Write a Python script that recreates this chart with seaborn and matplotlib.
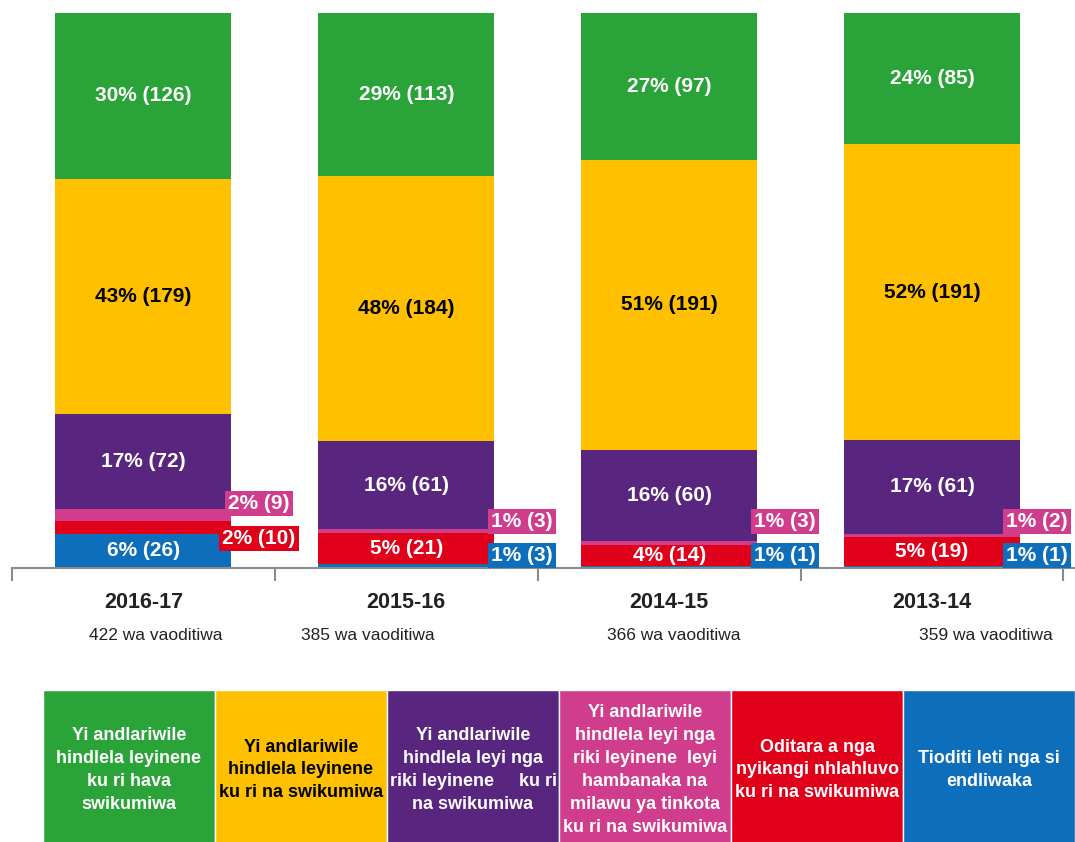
import numpy as np
import pandas as pd
import matplotlib.pyplot as plt
from matplotlib.patches import Rectangle
import seaborn as sns

sns.set_theme(style='white')
plt.rcParams['font.family'] = ['Liberation Sans Narrow', 'Liberation Sans', 'DejaVu Sans']

years = ['2016-17', '2015-16', '2014-15', '2013-14']
totals = [422, 385, 366, 359]
total_labels = ['422 wa vaoditiwa', '385 wa vaoditiwa', '366 wa vaoditiwa', '359 wa vaoditiwa']

# counts per category, listed bottom of the bar to top
blue_n = [26, 3, 1, 1]
red_n = [10, 21, 14, 19]
pink_n = [9, 3, 3, 2]
purple_n = [72, 61, 60, 61]
yellow_n = [179, 184, 191, 191]
green_n = [126, 113, 97, 85]

# percentages as printed on the chart
blue_pct = [6, 1, 1, 1]
red_pct = [2, 5, 4, 5]
pink_pct = [2, 1, 1, 1]
purple_pct = [17, 16, 16, 17]
yellow_pct = [43, 48, 51, 52]
green_pct = [30, 29, 27, 24]

legend_labels = [
    'Yi andlariwile\nhindlela leyinene\nku ri hava\nswikumiwa',
    'Yi andlariwile\nhindlela leyinene\nku ri na swikumiwa',
    'Yi andlariwile\nhindlela leyi nga\nriki leyinene     ku ri\nna swikumiwa',
    'Yi andlariwile\nhindlela leyi nga\nriki leyinene  leyi\nhambanaka na\nmilawu ya tinkota\nku ri na swikumiwa',
    'Oditara a nga\nnyikangi nhlahluvo\nku ri na swikumiwa',
    'Tioditi leti nga si\nendliwaka',
]

colors = {'green': '#2aa339', 'yellow': '#ffc000', 'purple': '#59267f',
          'pink': '#d03d8d', 'red': '#e0001a', 'blue': '#0d6fbb'}

# stack from bottom to top
segments = [
    ('blue', blue_n, blue_pct),
    ('red', red_n, red_pct),
    ('pink', pink_n, pink_pct),
    ('purple', purple_n, purple_pct),
    ('yellow', yellow_n, yellow_pct),
    ('green', green_n, green_pct),
]

tot = np.array(totals, dtype=float)
df = pd.DataFrame({'year': years})
bottom = np.zeros(len(years))
for name, counts, _ in segments:
    df[name + '_bot'] = bottom
    bottom = bottom + np.array(counts) / tot
    df[name + '_top'] = bottom

fig = plt.figure(figsize=(10.75, 8.42), dpi=100)
ax = fig.add_axes([12 / 1075, 274 / 842, 1062 / 1075, 555 / 842])

bar_w = 0.67
# draw cumulative bars, tallest first, so each layer sits on top
for name, _, _ in reversed(segments):
    sns.barplot(data=df, x='year', y=name + '_top', color=colors[name],
                saturation=1, width=bar_w, edgecolor='none', ax=ax)

x_end = 3.54
ax.set_xlim(-0.5, x_end)
ax.set_ylim(0, 1)
ax.set_xlabel('')
ax.set_ylabel('')
ax.set_yticks([])
ax.set_xticks([])
for s in ['top', 'right', 'left']:
    ax.spines[s].set_visible(False)
ax.spines['bottom'].set_color('#8a8a8a')
ax.spines['bottom'].set_linewidth(1.5)
ax.set_xticks(np.arange(-0.5, 4.0, 1.0), minor=True)
ax.tick_params(axis='x', which='minor', direction='out', length=9, width=1.5,
               color='#8a8a8a', bottom=True)

label_fs = 15
for i in range(len(years)):
    outside = []
    for name, counts, pcts in segments:
        lo = df.loc[i, name + '_bot']
        hi = df.loc[i, name + '_top']
        frac = hi - lo
        txt = f'{pcts[i]}% ({counts[i]})'
        tcol = 'black' if name == 'yellow' else 'white'
        if frac >= 0.03:
            box = None
            if name == 'blue':
                box = dict(boxstyle='square,pad=0.15', fc=colors[name], ec='none')
            ax.text(i, (lo + hi) / 2, txt, ha='center', va='center', color=tcol,
                    fontsize=label_fs, fontweight='bold', bbox=box, zorder=5)
        else:
            outside.append([name, txt, (lo + hi) / 2])
    # spread out the outside labels
    gap, floor = 0.062, 0.022
    for k in range(1, len(outside)):
        d = outside[k][2] - outside[k - 1][2]
        if d < gap:
            push = (gap - d) / 2
            outside[k - 1][2] -= push
            outside[k][2] += push
    for k in range(len(outside)):
        lim = floor if k == 0 else outside[k - 1][2] + gap
        outside[k][2] = max(outside[k][2], lim)
    # keep the last bar's side labels inside the figure
    lx = min(i + 0.44, x_end - 0.14)
    for name, txt, yy in outside:
        ax.text(lx, yy, txt, ha='center', va='center', color='white',
                fontsize=label_fs, fontweight='bold', zorder=6, clip_on=False,
                bbox=dict(boxstyle='square,pad=0.15', fc=colors[name], ec='none'))

count_shift = [0.045, -0.148, 0.019, 0.205]
for i, yr in enumerate(years):
    ax.text(i, -0.063, yr, ha='center', va='center', fontsize=15.5,
            fontweight='bold', color='#222222', clip_on=False)
    ax.text(i + count_shift[i], -0.121, total_labels[i], ha='center', va='center',
            fontsize=12.5, color='#222222', clip_on=False)

# colour key along the bottom
lax = fig.add_axes([43 / 1075, -8 / 842, 1032 / 1075, 160 / 842])
lax.set_xlim(0, 6)
lax.set_ylim(0, 1)
lax.axis('off')
legend_order = ['green', 'yellow', 'purple', 'pink', 'red', 'blue']
for k, (name, lab) in enumerate(zip(legend_order, legend_labels)):
    lax.add_patch(Rectangle((k, 0), 1, 1, fc=colors[name], ec='white', lw=1))
    lax.text(k + 0.5, 0.5, lab, ha='center', va='center', fontsize=13,
             fontweight='bold', linespacing=1.45,
             color='black' if name == 'yellow' else 'white')

fig.savefig('out.png', dpi=100)
